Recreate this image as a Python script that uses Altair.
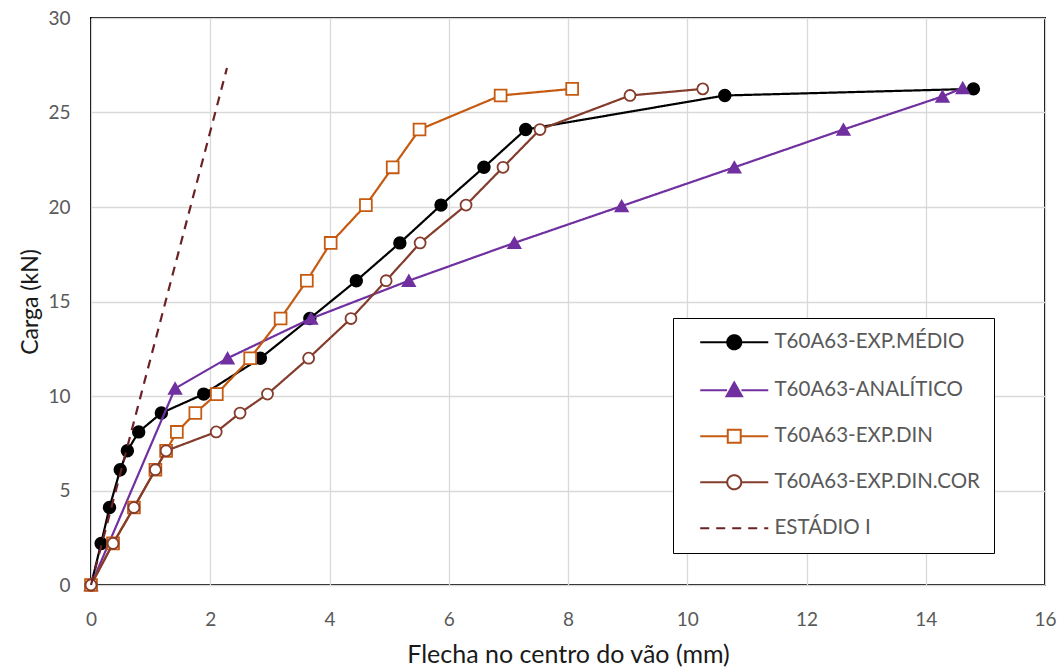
import altair as alt
import pandas as pd

# ---------------- data ----------------
SERIES = ["T60A63-EXP.MÉDIO", "T60A63-ANALÍTICO", "T60A63-EXP.DIN",
          "T60A63-EXP.DIN.COR", "ESTÁDIO I"]

MEDIO_X = [0, 0.17, 0.31, 0.49, 0.61, 0.80, 1.18, 1.89, 2.84, 3.67, 4.45,
           5.18, 5.87, 6.59, 7.29, 10.63, 14.80]
MEDIO_Y = [0, 2.2, 4.1, 6.1, 7.1, 8.1, 9.1, 10.1, 12.0, 14.1, 16.1, 18.1,
           20.1, 22.1, 24.1, 25.9, 26.25]

ANALITICO_X = [0, 1.41, 2.29, 3.69, 5.33, 7.10, 8.90, 10.79, 12.62, 14.28, 14.62]
ANALITICO_Y = [0, 10.4, 12.0, 14.1, 16.1, 18.1, 20.05, 22.1, 24.1, 25.85, 26.3]

DIN_X = [0, 0.37, 0.72, 1.08, 1.26, 1.44, 1.75, 2.11, 2.67, 3.18, 3.62, 4.02,
         4.61, 5.06, 5.51, 6.87, 8.07]
DIN_Y = [0, 2.2, 4.1, 6.1, 7.1, 8.1, 9.1, 10.1, 12.0, 14.1, 16.1, 18.1, 20.1,
         22.1, 24.1, 25.9, 26.25]

COR_X = [0, 0.37, 0.72, 1.08, 1.26, 2.10, 2.50, 2.96, 3.65, 4.36, 4.95, 5.52,
         6.29, 6.91, 7.53, 9.04, 10.26]
COR_Y = [0, 2.2, 4.1, 6.1, 7.1, 8.1, 9.1, 10.1, 12.0, 14.1, 16.1, 18.1, 20.1,
         22.1, 24.1, 25.9, 26.25]

ESTADIO_X = [0, 2.28]
ESTADIO_Y = [0, 27.35]

X_TICKS = [0, 2, 4, 6, 8, 10, 12, 14, 16]
Y_TICKS = [0, 5, 10, 15, 20, 25, 30]

# ---------------- styles ----------------
COLORS = ["#000000", "#7030A0", "#C55A11", "#843C2C", "#6B2226"]
FILLS = ["#000000", "#7030A0", "#FFFFFF", "#FFFFFF", "#FFFFFF"]
MARKERS = ["circle", "triangle-up", "square", "circle", None]
MSIZES = [135, 150, 140, 120, 0]
DASHES = [[1, 0], [1, 0], [1, 0], [1, 0], [9, 7]]

# legend symbols: line + marker, in units of 6 px (symbolSize 144)
L = "M-5.67,0L-{a},0M{a},0L5.67,0"
LEG_PATHS = [
    L.format(a=1.17) + "M-1.17,0A1.17,1.17,0,1,1,1.17,0A1.17,1.17,0,1,1,-1.17,0Z",
    L.format(a=1.2) + "M0,-1.3L1.3,1.0L-1.3,1.0Z",
    L.format(a=1.08) + "M-1.08,-1.08L1.08,-1.08L1.08,1.08L-1.08,1.08Z",
    L.format(a=1.17) + "M-1.17,0A1.17,1.17,0,1,1,1.17,0A1.17,1.17,0,1,1,-1.17,0Z",
    "M-5.67,0L5.67,0",
]

XS = [MEDIO_X, ANALITICO_X, DIN_X, COR_X, ESTADIO_X]
YS = [MEDIO_Y, ANALITICO_Y, DIN_Y, COR_Y, ESTADIO_Y]

rows = []
for name, xs, ys in zip(SERIES, XS, YS):
    for i, (xv, yv) in enumerate(zip(xs, ys)):
        rows.append({"series": name, "x": xv, "y": yv, "idx": i})
df = pd.DataFrame(rows)

FONT = "Lato"

x_enc = alt.X(
    "x:Q",
    scale=alt.Scale(domain=[0, 16], nice=False),
    axis=alt.Axis(
        values=X_TICKS, grid=True, gridColor="#D9D9D9", gridWidth=1.3,
        domain=False, ticks=False, labelFont=FONT, labelFontSize=19,
        labelColor="#595959", labelPadding=40, labelBaseline="alphabetic",
        labelOverlap=False, labelFlush=False, titleFont=FONT, titleFontSize=25,
        titleColor="#1a1a1a", titleFontWeight="normal", titleY=77,
        titleBaseline="alphabetic",
    ),
    title="Flecha no centro do vão (mm)",
)
y_enc = alt.Y(
    "y:Q",
    scale=alt.Scale(domain=[0, 30], nice=False),
    axis=alt.Axis(
        values=Y_TICKS, grid=True, gridColor="#D9D9D9", gridWidth=1.3,
        domain=False, ticks=False, labelFont=FONT, labelFontSize=19,
        labelColor="#595959", labelPadding=21, labelOverlap=False,
        labelFlush=False,
        titleFont=FONT, titleFontSize=23, titleColor="#1a1a1a",
        titleFontWeight="normal", titleX=-61, titleY=283.5, titleAngle=-90,
        titleBaseline="middle", titleAlign="center",
    ),
    title="Carga (kN)",
)

layers = []
for k, name in enumerate(SERIES):
    base = alt.Chart(df).transform_filter(alt.datum.series == name)
    layers.append(
        base.mark_line(color=COLORS[k], strokeWidth=2.2, strokeDash=DASHES[k])
        .encode(x=x_enc, y=y_enc, order="idx:Q")
    )
    if MARKERS[k]:
        layers.append(
            base.mark_point(filled=True, fill=FILLS[k], stroke=COLORS[k],
                            strokeWidth=1.8, size=MSIZES[k], shape=MARKERS[k],
                            opacity=1)
            .encode(x=x_enc, y=y_enc)
        )

leg = alt.Legend(
    title=None, orient="none", legendX=582, legendY=300,
    strokeColor="#000000", fillColor="#FFFFFF", padding=14,
    symbolSize=144, symbolStrokeWidth=2, symbolOffset=37, labelOffset=30,
    rowPadding=24, labelFont=FONT, labelFontSize=20.5, labelColor="#595959",
    labelLimit=400, symbolOpacity=1,
)

legend_layer = (
    alt.Chart(df).transform_filter("false")
    .mark_point(filled=True, opacity=1)
    .encode(
        x=x_enc, y=y_enc,
        shape=alt.Shape("series:N", scale=alt.Scale(domain=SERIES, range=LEG_PATHS), legend=leg),
        fill=alt.Fill("series:N", scale=alt.Scale(domain=SERIES, range=FILLS), legend=leg),
        stroke=alt.Stroke("series:N", scale=alt.Scale(domain=SERIES, range=COLORS), legend=leg),
        strokeDash=alt.StrokeDash("series:N", scale=alt.Scale(domain=SERIES, range=DASHES), legend=leg),
    )
)

chart = (
    alt.layer(*layers, legend_layer)
    .properties(
        width=954, height=567, autosize="none",
        padding={"left": 91, "top": 18, "right": 17, "bottom": 86},
        background="white",
    )
    .configure_view(stroke="#000000", strokeWidth=2)
)

chart.save("out.html", embed_options={"renderer": "svg", "actions": False})
